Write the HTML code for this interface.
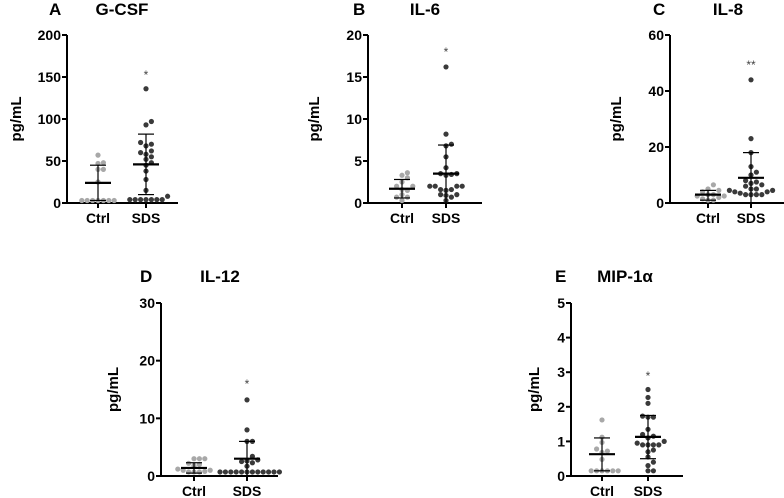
<!DOCTYPE html>
<html><head><meta charset="utf-8"><style>
body{margin:0;background:#fff;width:784px;height:498px;overflow:hidden}
svg{display:block;font-family:"Liberation Sans",sans-serif}
</style></head><body>
<svg id="fig" width="784" height="498"></svg>
<script>
const categories=["Ctrl","SDS"];
const aCtrl=[57,48,47,40,40,25,3,3,3,3,3,3,3];
const aSds=[136,97,93,72,70,68,62,60,58,55,52,48,45,38,28,15,8,4,4,4,4,4,4,4];
const aStats=[[24,3,45],[46,10,82]];
const bCtrl=[3.6,3.3,3.0,2.5,2.0,2.0,1.6,1.5,1.0,0.7,0.7,0.3];
const bSds=[16.2,8.2,7.0,6.8,5.5,4.2,3.5,3.5,3.4,3.3,2.0,2.0,2.0,2.0,1.6,1.6,1.5,1.0,1.0,0.9,0.7,0.3];
const bStats=[[1.7,0.6,2.8],[3.5,0,6.9]];
const cCtrl=[6.5,5,4.5,4,3,3,2.5,2.5,2,1.5,1,1];
const cSds=[44,23,18,13,11,10,8,7.5,7,6.5,6,5,5,4.5,4.5,4,4,3.5,3,3,3,3];
const cStats=[[3,1,4.5],[9,0,18]];
const dCtrl=[3,3,3,2.2,2,1.8,1.2,1,1,0.8,0.7,0.7,0.7];
const dSds=[13.2,8,6,6,3.4,2.8,2.6,2.5,2.3,1.7,0.7,0.7,0.7,0.7,0.7,0.7,0.7,0.7,0.7,0.7,0.7,0.7];
const dStats=[[1.4,0.5,2.3],[3,0,6]];
const eCtrl=[1.62,1.12,0.97,0.78,0.72,0.68,0.48,0.15,0.15,0.15,0.15,0.15,0.15];
const eSds=[2.5,2.27,2.1,1.73,1.7,1.7,1.35,1.2,1.15,1.1,1.0,0.95,0.9,0.9,0.9,0.9,0.75,0.7,0.55,0.4,0.3,0.15,0.15];
const eStats=[[0.63,0.15,1.1],[1.13,0.5,1.75]];
const yTicksA=[0,50,100,150,200], yTicksB=[0,5,10,15,20], yTicksC=[0,20,40,60], yTicksD=[0,10,20,30], yTicksE=[0,1,2,3,4,5];
const sigA=[155,"*"], sigB=[18.2,"*"], sigC=[50,"**"], sigD=[16.3,"*"], sigE=[2.95,"*"];

const svg=document.getElementById('fig');
const NS='http://www.w3.org/2000/svg';
function mk(tag,attrs,parent,txt){const e=document.createElementNS(NS,tag);for(const k in attrs)e.setAttribute(k,attrs[k]);if(txt!==undefined)e.textContent=txt;(parent||svg).appendChild(e);return e;}

function panel(o){
  const g=mk('g',{});
  
  
  const max=o.ticks[o.ticks.length-1];
  const y=v=>o.y0-(v/max)*(o.y0-o.yTop);
  const xs=[o.cx0,o.cx1];
  const ya=mk('line',{x1:o.ax,y1:o.yTop,x2:o.ax,y2:o.y0,stroke:'#000','stroke-width':2},g);
  
  const xa=mk('line',{x1:o.ax,y1:o.y0,x2:o.axEnd,y2:o.y0,stroke:'#000','stroke-width':2},g);
  
  o.ticks.forEach(t=>{
    mk('line',{x1:o.ax-5,y1:y(t),x2:o.ax,y2:y(t),stroke:'#000','stroke-width':2},g);
    const tl=mk('text',{x:o.ax-6,y:y(t)+5,'text-anchor':'end','font-size':14,'font-weight':'bold'},g,t);
    
  });
  categories.forEach((c,i)=>{
    mk('line',{x1:xs[i],y1:o.y0,x2:xs[i],y2:o.y0+5,stroke:'#000','stroke-width':2},g);
    const cl=mk('text',{x:xs[i],y:o.y0+20,'text-anchor':'middle','font-size':14,'font-weight':'bold'},g,c);
    
  });
  const yl=mk('text',{x:0,y:0,transform:`translate(${o.ylx},${(o.yTop+o.y0)/2}) rotate(-90)`,'text-anchor':'middle','font-size':15,'font-weight':'bold'},g,'pg/mL');
  
  const lt=mk('text',{x:o.lx,y:o.ty,'font-size':17,'font-weight':'bold'},g,o.letter);
  
  const tt=mk('text',{x:o.tx,y:o.ty,'text-anchor':'middle','font-size':17,'font-weight':'bold'},g,o.title);
  
  [o.ctrl,o.sds].forEach((arr,i)=>{
    const placed=[];const d=5.4;
    arr.slice().sort((a,b)=>a-b).forEach(v=>{
      const py=y(v);let k=0,px;
      while(true){const off=(k===0?0:(k%2?1:-1)*Math.ceil(k/2)*d);px=xs[i]+off;
        if(!placed.some(p=>Math.hypot(p[0]-px,p[1]-py)<d-0.5))break;k++;}
      placed.push([px,py]);
      const c=mk('circle',{cx:px,cy:py,r:2.6,fill:i?'#3a3a3a':'#a8a8a8'},g);
      
      
    });
    const s=o.stats[i];
    const eb=mk('line',{x1:xs[i],y1:y(s[1]),x2:xs[i],y2:y(s[2]),stroke:'#000','stroke-width':1.2},g);
    
    [s[1],s[2]].forEach(v=>mk('line',{x1:xs[i]-8,y1:y(v),x2:xs[i]+8,y2:y(v),stroke:'#000','stroke-width':1.2},g));
    const ml=mk('line',{x1:xs[i]-13,y1:y(s[0]),x2:xs[i]+13,y2:y(s[0]),stroke:'#000','stroke-width':2.2},g);
    
  });
  const st=mk('text',{x:xs[1],y:y(o.sig[0])+6,'text-anchor':'middle','font-size':12,fill:'#444'},g,o.sig[1]);
  
}
panel({letter:'A',title:'G-CSF',ax:67,axEnd:178,yTop:35,y0:203,cx0:98,cx1:146,ticks:yTicksA,ctrl:aCtrl,sds:aSds,stats:aStats,sig:sigA,ylx:21,lx:49,tx:122,ty:15});
panel({letter:'B',title:'IL-6',ax:368,axEnd:482,yTop:35,y0:203,cx0:402,cx1:446,ticks:yTicksB,ctrl:bCtrl,sds:bSds,stats:bStats,sig:sigB,ylx:319,lx:353,tx:425,ty:15});
panel({letter:'C',title:'IL-8',ax:670,axEnd:784,yTop:35,y0:203,cx0:708,cx1:751,ticks:yTicksC,ctrl:cCtrl,sds:cSds,stats:cStats,sig:sigC,ylx:621,lx:653,tx:728,ty:15});
panel({letter:'D',title:'IL-12',ax:161,axEnd:278,yTop:303,y0:476,cx0:194,cx1:247,ticks:yTicksD,ctrl:dCtrl,sds:dSds,stats:dStats,sig:sigD,ylx:118,lx:140,tx:220,ty:282});
panel({letter:'E',title:'MIP-1\u03b1',ax:571,axEnd:683,yTop:303,y0:476,cx0:602,cx1:648,ticks:yTicksE,ctrl:eCtrl,sds:eSds,stats:eStats,sig:sigE,ylx:539,lx:555,tx:625,ty:282});
</script>
</body></html>
